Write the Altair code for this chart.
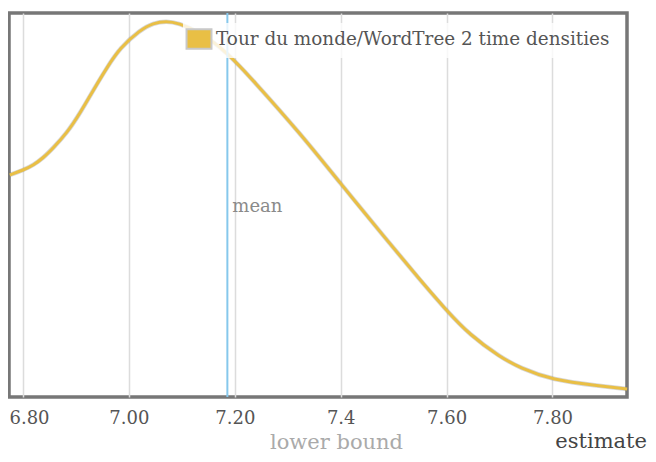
import altair as alt
import pandas as pd

# ---- data ----
estimate = [6.775, 6.801, 6.820, 6.838, 6.857, 6.883, 6.908, 6.933, 6.958, 6.983,
            7.021, 7.046, 7.071, 7.093, 7.134, 7.185, 7.234, 7.323, 7.399, 7.487,
            7.550, 7.599, 7.644, 7.701, 7.739, 7.799, 7.890, 7.941]
density = [2.22, 2.27, 2.32, 2.39, 2.49, 2.64, 2.84, 3.07, 3.29, 3.49,
           3.67, 3.74, 3.76, 3.74, 3.65, 3.45, 3.17, 2.64, 2.14, 1.57,
           1.17, 0.87, 0.62, 0.40, 0.29, 0.17, 0.11, 0.08]
series_name = ["Tour du monde/WordTree 2 time densities"]
mean_value = [7.186]
tick_values = [6.8, 7.0, 7.2, 7.4, 7.6, 7.8]
x_domain = [6.7736, 7.9407]
y_domain = [0, 3.84]

GOLD = "#E9BF45"
FONT = "DejaVu Serif"

curve_df = pd.DataFrame({"estimate": estimate, "density": density,
                         "series": series_name * len(estimate)})
mean_df = pd.DataFrame({"mean": mean_value, "label": ["mean"]})
legend_df = pd.DataFrame({"estimate": [estimate[12]], "density": [density[12]],
                          "series": series_name})
title_df = pd.DataFrame({"t": ["estimate"]})

x_scale = alt.Scale(domain=x_domain, nice=False, zero=False)
y_scale = alt.Scale(domain=y_domain, nice=False, zero=False)

x_axis = alt.Axis(
    values=tick_values,
    labelExpr="datum.value == 7.4 ? '7.4' : format(datum.value, '.2f')",
    grid=True, gridColor="#dcdcdc", gridWidth=1.5,
    domain=False, ticks=False, tickSize=0,
    labelFont=FONT, labelFontSize=18, labelColor="#555555",
    labelPadding=26, labelBaseline="alphabetic",
    labelFlush=15, labelFlushOffset=14,
    title="lower bound", titleFont=FONT, titleFontSize=21, titleFontWeight="normal",
    titleColor="#aaaaaa", titleX=327, titleY=51, titleBaseline="alphabetic",
    titleAlign="center",
)

shadow = alt.Chart(curve_df).mark_line(
    interpolate="basis", stroke="#7a7a7a", strokeWidth=4.5, opacity=0.3
).encode(
    x=alt.X("estimate:Q", scale=x_scale, axis=x_axis),
    y=alt.Y("density:Q", scale=y_scale, axis=None),
)

line = alt.Chart(curve_df).mark_line(
    interpolate="basis", stroke=GOLD, strokeWidth=3
).encode(
    x=alt.X("estimate:Q", scale=x_scale),
    y=alt.Y("density:Q", scale=y_scale),
)

mean_rule = alt.Chart(mean_df).mark_rule(color="#86C8EC", strokeWidth=2).encode(
    x=alt.X("mean:Q", scale=x_scale)
)

mean_text = alt.Chart(mean_df).mark_text(
    align="left", baseline="alphabetic", dx=5, font=FONT, fontSize=18, color="#8a8a8a"
).encode(
    x=alt.X("mean:Q", scale=x_scale),
    y=alt.value(199),
    text="label:N",
)

legend_pts = alt.Chart(legend_df).mark_point(
    shape="square", filled=True, opacity=0, stroke="#c8c8c8"
).encode(
    x=alt.X("estimate:Q", scale=x_scale),
    y=alt.Y("density:Q", scale=y_scale),
    fill=alt.Fill(
        "series:N",
        scale=alt.Scale(domain=series_name, range=[GOLD]),
        legend=alt.Legend(
            title=None, orient="none", legendX=174, legendY=10,
            symbolType="M-1.28,-1L1.28,-1L1.28,1L-1.28,1Z", symbolSize=380,
            symbolStrokeWidth=2, symbolOpacity=1, symbolStrokeColor="#c8c8c8",
            labelFont=FONT, labelFontSize=18.4, labelColor="#555555",
            labelLimit=600, labelOffset=6,
            padding=5, fillColor="rgba(255,255,255,0.8)",
        ),
    ),
)

est_text = alt.Chart(title_df).mark_text(
    align="right", baseline="alphabetic", font=FONT, fontSize=21, color="#444444"
).encode(
    x=alt.value(638), y=alt.value(435), text="t:N"
)

chart = alt.layer(shadow, line, mean_rule, mean_text, legend_pts, est_text).properties(
    width=618, height=384,
    autosize=alt.AutoSizeParams(type="none"),
    padding={"left": 1, "top": 5, "right": 21, "bottom": 57},
).configure_view(
    stroke="#777777", strokeWidth=3.5
)

chart.save("out.html", embed_options={"renderer": "svg", "actions": False})
